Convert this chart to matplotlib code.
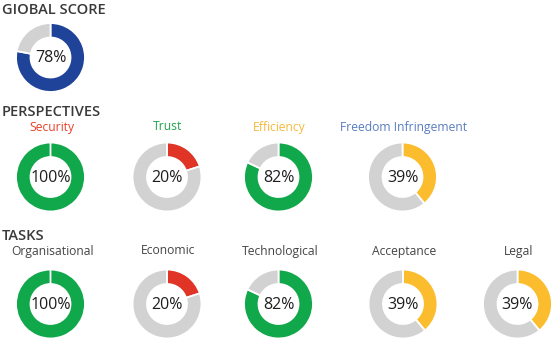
import matplotlib.pyplot as plt

W, H = 553, 341

# data
global_value = 78
persp_labels = ["Security", "Trust", "Efficiency", "Freedom Infringement"]
persp_values = [100, 20, 82, 39]
persp_label_colors = ["#e8402a", "#21a24f", "#f6b93a", "#5a7dbf"]
task_labels = ["Organisational", "Economic", "Technological", "Acceptance", "Legal"]
task_values = [100, 20, 82, 39, 39]

GRAY = "#d2d2d2"
BLUE = "#20439a"
GREEN = "#10a84a"
RED = "#df3426"
YELLOW = "#fbbd2e"


def value_color(v):
    if v >= 70:
        return GREEN
    if v >= 30:
        return YELLOW
    return RED


plt.rcParams['font.family'] = ['Open Sans', 'DejaVu Sans']
fig = plt.figure(figsize=(W / 100, H / 100), dpi=100)
fig.patch.set_facecolor("white")

R = 34.5  # donut radius in px


def donut(cx, cy, value, color):
    ax = fig.add_axes([(cx - R - 1) / W, 1 - (cy + R + 1) / H, (2 * R + 2) / W, (2 * R + 2) / H])
    ax.pie([value, 100 - value], colors=[color, GRAY], startangle=90, counterclock=False,
           radius=1, wedgeprops=dict(width=0.42, edgecolor="white", linewidth=1.3))
    ax.set_xlim(-1.03, 1.03)
    ax.set_ylim(-1.03, 1.03)
    ax.set_aspect("equal")
    ax.axis("off")
    ax.text(0, -0.02, f"{value}%", ha="center", va="center", fontsize=11.5,
            color="#1e1e1e", fontweight="normal")


def ftext(x, y, s, **kw):
    fig.text(x / W, 1 - y / H, s, **kw)


# headers
hdr = dict(fontsize=10.5, fontweight="semibold", color="#3a3a3a", va="baseline", ha="left")
ftext(2, 13.5, "GIOBAL SCORE", **hdr)
ftext(2, 116.5, "PERSPECTIVES", **hdr)
ftext(2, 240.5, "TASKS", **hdr)

donut(50.5, 57.5, global_value, BLUE)

persp_x = [50.5, 167, 278.5, 402.5]
for x, lab, v, c in zip(persp_x, persp_labels, persp_values, persp_label_colors):
    ftext(x + 1, 130.5, lab, fontsize=8.7, color=c, ha="center", va="baseline")
    donut(x, 177, v, value_color(v))

task_x = [50.5, 167, 278.5, 403, 517.5]
for x, lab, v in zip(task_x, task_labels, task_values):
    ftext(x + 1.5, 254.5, lab, fontsize=8.7, color="#444444", ha="center", va="baseline")
    donut(x, 304, v, value_color(v))

fig.savefig("out.png", dpi=100)
